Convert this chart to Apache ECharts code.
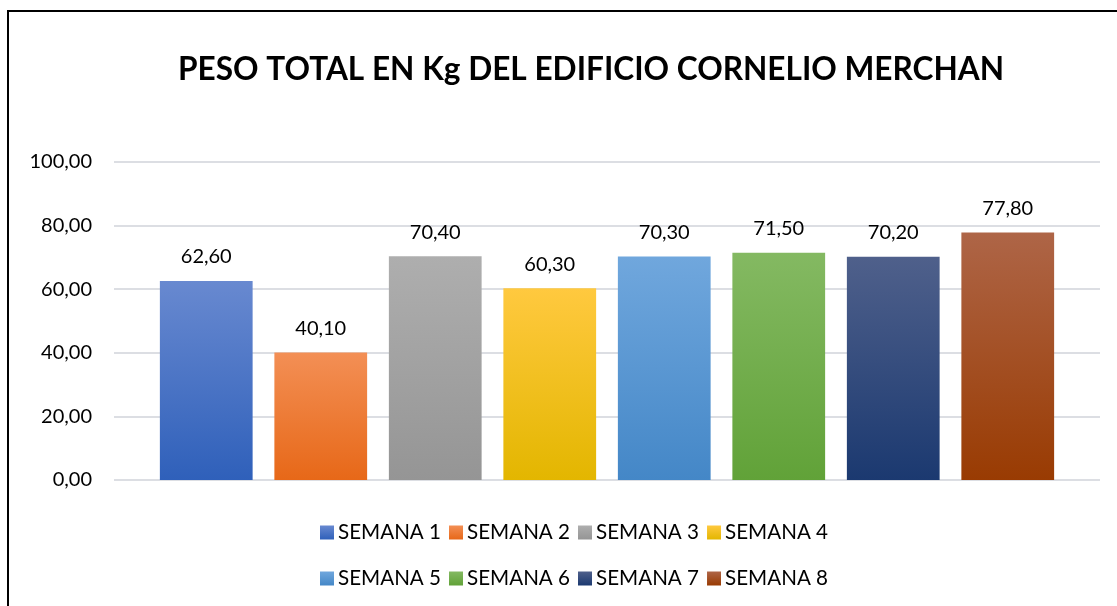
<!DOCTYPE html>
<html>
<head>
<meta charset="utf-8">
<script src="https://cdn.jsdelivr.net/npm/echarts@6/dist/echarts.min.js"></script>
<style>
  html, body { margin: 0; padding: 0; background: #fff; }
  #chart { width: 1117px; height: 606px; }
</style>
</head>
<body>
<div id="chart"></div>
<script>
var semanas = ["SEMANA 1", "SEMANA 2", "SEMANA 3", "SEMANA 4", "SEMANA 5", "SEMANA 6", "SEMANA 7", "SEMANA 8"];
var pesos = [62.6, 40.1, 70.4, 60.3, 70.3, 71.5, 70.2, 77.8];
var yTicks = [0, 20, 40, 60, 80, 100];

// degradado de cada barra: [arriba, abajo]
var colores = [
  ["#6889d0", "#2f60ba"],
  ["#f38f55", "#e76818"],
  ["#aeaeae", "#959595"],
  ["#ffc93f", "#e3b600"],
  ["#70a7dd", "#4487c7"],
  ["#84b962", "#61a238"],
  ["#4f608b", "#1b3970"],
  ["#ae6547", "#993b02"]
];

var fuente = "Lato, 'Open Sans', sans-serif";

function coma(v) {
  return v.toFixed(2).replace(".", ",");
}

var myChart = echarts.init(document.getElementById("chart"));

var series = [];
for (var i = 0; i < semanas.length; i++) {
  var datos = [];
  for (var j = 0; j < semanas.length; j++) {
    datos.push(j === i ? pesos[i] : null);
  }
  series.push({
    name: semanas[i],
    type: "bar",
    xAxisIndex: 1,
    yAxisIndex: 1,
    stack: "total",
    barWidth: "81%",
    itemStyle: {
      color: new echarts.graphic.LinearGradient(0, 0, 0, 1, [
        { offset: 0, color: colores[i][0] },
        { offset: 1, color: colores[i][1] }
      ])
    },
    label: {
      show: true,
      position: "top",
      distance: 14,
      fontFamily: fuente,
      fontSize: 20,
      color: "#000",
      formatter: function (p) { return p.value == null ? "" : coma(p.value); }
    },
    data: datos
  });
}

var legendaBase = {
  icon: "rect",
  itemWidth: 14,
  itemHeight: 14,
  itemGap: 8,
  left: 315,
  textStyle: { fontFamily: fuente, fontSize: 20.6, color: "#000", padding: [0, 0, 0, -1] }
};

var option = {
  animation: false,
  title: {
    text: "PESO TOTAL EN Kg DEL EDIFICIO CORNELIO MERCHAN",
    left: 586,
    textAlign: "center",
    top: 49,
    textStyle: { fontFamily: fuente, fontSize: 31.6, fontWeight: "bold", color: "#000" }
  },
  graphic: [{
    type: "rect",
    shape: { x: 8, y: 11, width: 1200, height: 700 },
    style: { fill: "none", stroke: "#000", lineWidth: 2 },
    silent: true
  }],
  legend: [
    Object.assign({}, legendaBase, { top: 517, data: semanas.slice(0, 4) }),
    Object.assign({}, legendaBase, { top: 563, data: semanas.slice(4) })
  ],
  grid: [
    { left: 114, right: 17, top: 162, bottom: 126 },
    { left: 149, right: 52, top: 162, bottom: 126 }
  ],
  xAxis: [
    { type: "category", gridIndex: 0, data: [""], show: false },
    {
      type: "category", gridIndex: 1, data: semanas,
      axisLine: { show: false }, axisTick: { show: false }, axisLabel: { show: false }
    }
  ],
  yAxis: [
    {
      type: "value", gridIndex: 0, min: yTicks[0], max: yTicks[yTicks.length - 1], interval: 20,
      axisLine: { show: false }, axisTick: { show: false },
      axisLabel: { margin: 22, fontFamily: fuente, fontSize: 20, color: "#000", formatter: coma },
      splitLine: { lineStyle: { color: "#dcdee3", width: 2 } }
    },
    {
      type: "value", gridIndex: 1, min: 0, max: 100, interval: 20, show: false,
      splitLine: { show: false }
    }
  ],
  series: series
};

myChart.setOption(option);
</script>
</body>
</html>
